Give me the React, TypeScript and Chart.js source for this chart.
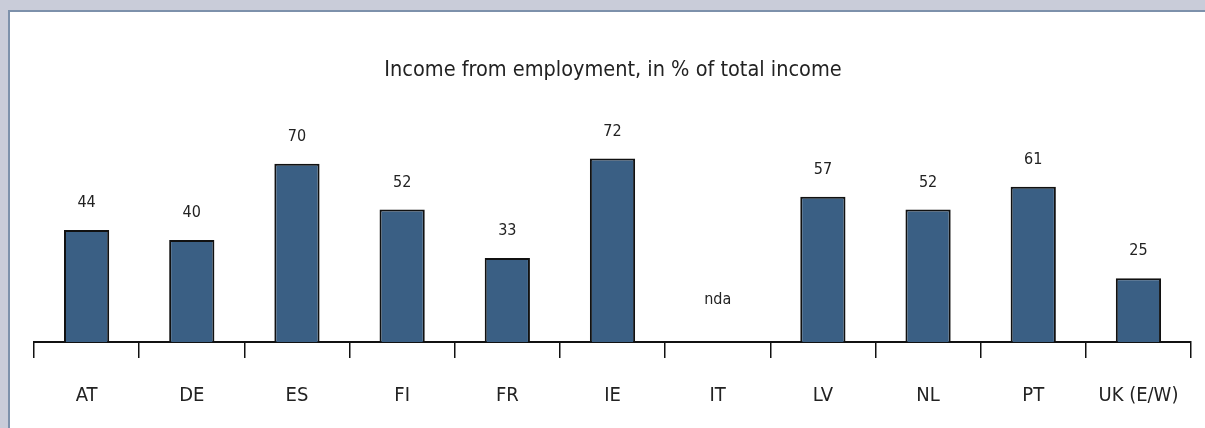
import React, { useEffect, useRef } from "react";
import { Chart, registerables } from "chart.js";

Chart.register(...registerables);

const categories = ["AT", "DE", "ES", "FI", "FR", "IE", "IT", "LV", "NL", "PT", "UK (E/W)"];
const values: (number | null)[] = [44, 40, 70, 52, 33, 72, null, 57, 52, 61, 25];
const valueLabels = ["44", "40", "70", "52", "33", "72", "nda", "57", "52", "61", "25"];
const chartTitle = "Income from employment, in % of total income";

const FONT = "'Liberation Sans Narrow', 'DejaVu Sans Condensed', 'Roboto', sans-serif";

const valueLabelPlugin = {
  id: "valueLabels",
  afterDatasetsDraw(chart: any) {
    const ctx = chart.ctx;
    const meta = chart.getDatasetMeta(0);
    const yScale = chart.scales.y;
    ctx.save();
    ctx.font = `16px ${FONT}`;
    ctx.fillStyle = "#222";
    ctx.textAlign = "center";
    ctx.textBaseline = "middle";
    meta.data.forEach((bar: any, i: number) => {
      const v = values[i];
      const x = bar.x;
      const y = v == null ? yScale.getPixelForValue(0) - 42 : bar.y - 27;
      ctx.fillText(valueLabels[i], x, y);
    });
    ctx.restore();
  },
};

export default function App() {
  const ref = useRef<HTMLCanvasElement>(null);
  useEffect(() => {
    document.body.style.margin = "0";
    document.body.style.background = "#c9ccd9";
    const chart = new Chart(ref.current!, {
      type: "bar",
      data: {
        labels: categories,
        datasets: [
          {
            data: values as any,
            backgroundColor: "#3a5f84",
            borderColor: "#111",
            borderWidth: 2,
            categoryPercentage: 1,
            barPercentage: 0.43,
          },
        ],
      },
      options: {
        animation: false,
        responsive: false,
        maintainAspectRatio: false,
        layout: { padding: { left: 24, right: 13, top: 0, bottom: 18 } },
        plugins: {
          legend: { display: false },
          tooltip: { enabled: false },
          title: {
            display: true,
            text: chartTitle,
            color: "#222",
            font: { family: FONT, size: 21.5, weight: "normal" as any, lineHeight: 1.2 },
            padding: { top: 46, bottom: 3.5 },
          },
        },
        scales: {
          x: {
            afterFit: (scale: any) => {
              scale.height = 68;
            },
            grid: {
              offset: true,
              drawOnChartArea: false,
              drawTicks: true,
              tickLength: 16,
              color: "#111",
              lineWidth: 1.5,
            },
            border: { display: true, color: "#111", width: 2 },
            ticks: {
              color: "#222",
              padding: 26,
              font: { family: FONT, size: 20, lineHeight: 1.2 },
              maxRotation: 0,
              autoSkip: false,
            },
          },
          y: {
            display: false,
            min: 0,
            max: 100,
          },
        },
      },
      plugins: [valueLabelPlugin],
    });
    return () => chart.destroy();
  }, []);

  return (
    <div style={{ position: "fixed", inset: 0, width: 1205, height: 428, background: "#c9ccd9" }}>
      <div
        style={{
          position: "absolute",
          left: 8,
          top: 10,
          width: 1197,
          height: 418,
          background: "#fff",
          borderTop: "2px solid #7d91ab",
          borderLeft: "2px solid #7d91ab",
          boxSizing: "border-box",
        }}
      >
        <canvas ref={ref} width={1195} height={416} style={{ display: "block" }} />
      </div>
    </div>
  );
}
